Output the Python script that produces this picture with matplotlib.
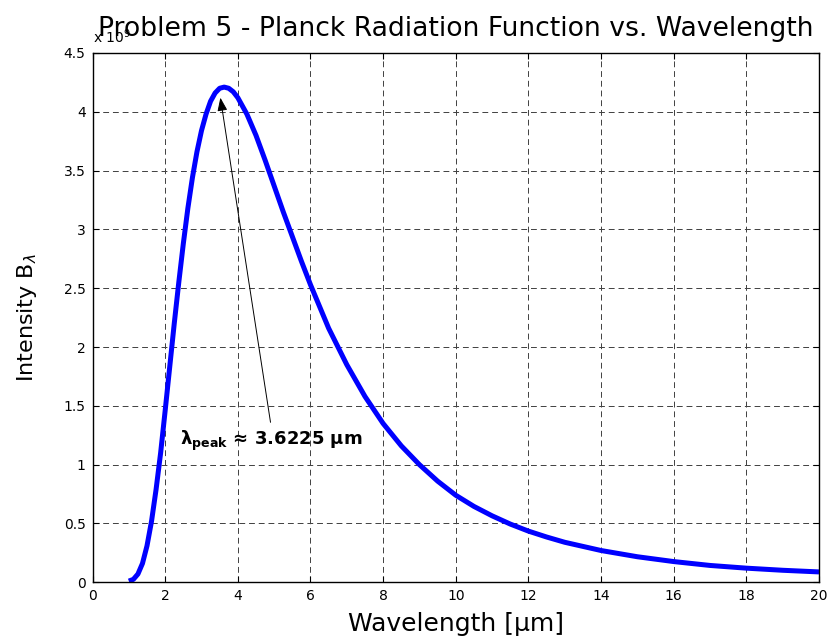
import matplotlib
matplotlib.use('Agg')
import matplotlib.pyplot as plt

# values (intensity in units of 1e9)
wavelength = [1.0, 1.125, 1.25, 1.375, 1.5, 1.625, 1.75, 1.875, 2.0, 2.125,
              2.25, 2.375, 2.5, 2.625, 2.75, 2.875, 3.0, 3.125, 3.25, 3.375,
              3.5, 3.625, 3.75, 3.875, 4.0, 4.25, 4.5, 4.75, 5.0, 5.25, 5.5,
              5.75, 6.0, 6.5, 7.0, 7.5, 8.0, 8.5, 9.0, 9.5, 10, 10.5, 11,
              11.5, 12, 12.5, 13, 14, 15, 16, 17, 18, 19, 20]
intensity = [0.01, 0.025, 0.07, 0.16, 0.31, 0.52, 0.79, 1.1, 1.46, 1.83,
             2.2, 2.55, 2.88, 3.18, 3.44, 3.66, 3.84, 3.98, 4.09, 4.16,
             4.2, 4.21, 4.2, 4.17, 4.12, 3.98, 3.8, 3.59, 3.37, 3.15, 2.94,
             2.73, 2.53, 2.16, 1.85, 1.58, 1.35, 1.16, 1.0, 0.86, 0.74, 0.645,
             0.565, 0.495, 0.435, 0.385, 0.34, 0.27, 0.217, 0.176, 0.143,
             0.12, 0.102, 0.088]

x_ticks = list(range(0, 21, 2))
y_ticks = [0, 0.5, 1, 1.5, 2, 2.5, 3, 3.5, 4, 4.5]
y_ticklabels = ['0', '0.5', '1', '1.5', '2', '2.5', '3', '3.5', '4', '4.5']

peak_label = r'$\mathbf{\lambda_{peak}}$ ≈ 3.6225 μm'

plt.rcParams['font.family'] = ['DejaVu Sans']

fig = plt.figure(figsize=(8.32, 6.4), dpi=100)
ax = fig.add_axes([0.1112, 0.0902, 0.8732, 0.827])

ax.plot(wavelength, intensity, color='#0000ff', lw=3.6,
        solid_joinstyle='round', solid_capstyle='butt')

ax.set_xlim(0, 20)
ax.set_ylim(0, 4.5)
ax.set_xticks(x_ticks)
ax.set_yticks(y_ticks)
ax.set_yticklabels(y_ticklabels)
ax.tick_params(direction='in', top=True, right=True, length=4.5, width=0.8,
               labelsize=10, colors='black')
ax.tick_params(axis='x', pad=5)
ax.tick_params(axis='y', pad=5)
for s in ax.spines.values():
    s.set_linewidth(1.0)
    s.set_color('black')

ax.grid(True, color='0.25', lw=0.7, linestyle=(0, (6, 4)))
ax.set_axisbelow(True)

ax.set_xlabel('Wavelength [μm]', fontsize=18, labelpad=6)
ax.set_ylabel(r'Intensity B$_\lambda$', fontsize=16, labelpad=18)
ax.set_title('Problem 5 - Planck Radiation Function vs. Wavelength',
             fontsize=19.2, pad=12)

ax.text(0.0, 1.019, r'x 10$^{9}$', transform=ax.transAxes, fontsize=10,
        ha='left', va='baseline')

ax.annotate('', xy=(3.52, 4.12), xytext=(4.90, 1.36),
            arrowprops=dict(arrowstyle='-|>,head_length=0.8,head_width=0.3',
                            color='black', lw=0.7, shrinkA=0, shrinkB=0))
ax.text(2.41, 1.17, peak_label, fontsize=13, fontweight='bold',
        ha='left', va='baseline')

fig.savefig('out.png', dpi=100)
